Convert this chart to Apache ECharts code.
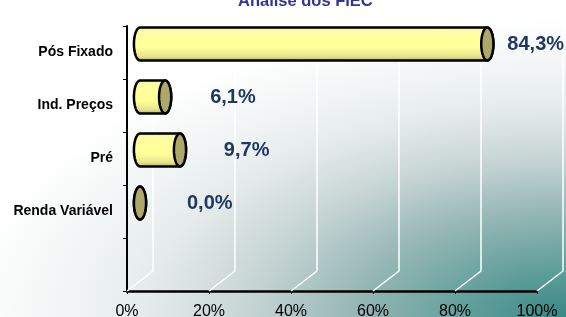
<!DOCTYPE html>
<html>
<head>
<meta charset="utf-8">
<script src="https://cdn.jsdelivr.net/npm/echarts@6/dist/echarts.min.js"></script>
<style>
  html, body { margin: 0; padding: 0; background: #fff; }
  #chart { width: 566px; height: 317px; }
</style>
</head>
<body>
<div id="chart"></div>
<script>
const categories = ['Pós Fixado', 'Ind. Preços', 'Pré', 'Renda Variável', '']
const shares = [84.3, 6.1, 9.7, 0.0]
const shareLabels = ['84,3%', '6,1%', '9,7%', '0,0%']
const xTicks = [0, 20, 40, 60, 80, 100]

// 3D depth of the Excel-style back wall
const DEPTH_X = 26
const DEPTH_Y = -20
const FONT = '"Liberation Sans", Arial, sans-serif'

const chart = echarts.init(document.getElementById('chart'))

const ellipsePts = (cx, cy, rx, ry, a0, a1, n) => {
  const pts = []
  for (let k = 0; k <= n; k++) {
    const t = a0 + (a1 - a0) * k / n
    pts.push([cx + rx * Math.cos(t), cy + ry * Math.sin(t)])
  }
  return pts
}

const renderWall = (params, api) => {
  const cs = params.coordSys
  const x = api.coord([api.value(0), 0])[0]
  const bottom = cs.y + cs.height
  return {
    type: 'polyline',
    shape: { points: [[x + DEPTH_X, cs.y + DEPTH_Y], [x + DEPTH_X, bottom + DEPTH_Y], [x, bottom]] },
    style: { stroke: '#ffffff', lineWidth: 1.5, fill: 'none' }
  }
}

const renderBar = (params, api) => {
  const i = api.value(1)
  const p0 = api.coord([0, i])
  const p1 = api.coord([api.value(0), i])
  const ry = api.size([0, 1])[1] * 0.31
  const rx = ry * 0.37
  const body = [].concat(
    ellipsePts(p1[0], p1[1], rx, ry, -Math.PI / 2, Math.PI / 2, 24),
    ellipsePts(p0[0], p0[1], rx, ry, Math.PI / 2, Math.PI * 1.5, 24)
  )
  const cap = ellipsePts(p1[0], p1[1], rx, ry, 0, Math.PI * 2, 48)
  return {
    type: 'group',
    children: [
      {
        type: 'polygon',
        shape: { points: body },
        style: {
          fill: new echarts.graphic.LinearGradient(0, 0, 0, 1, [
            { offset: 0, color: '#d9d8a8' },
            { offset: 0.1, color: '#fbfba6' },
            { offset: 0.3, color: '#ffff9c' },
            { offset: 0.6, color: '#ffff99' },
            { offset: 0.85, color: '#e8e48c' },
            { offset: 1, color: '#aaa777' }
          ]),
          stroke: '#000000',
          lineWidth: 2.5,
          lineJoin: 'round'
        }
      },
      {
        type: 'polygon',
        shape: { points: cap },
        style: { fill: '#aea86a', stroke: '#000000', lineWidth: 2.5 }
      }
    ]
  }
}

const hiddenValueAxis = (gridIndex) => ({
  type: 'value', gridIndex, min: 0, max: 100, show: false
})
const hiddenCatAxis = (gridIndex) => ({
  type: 'category', gridIndex, inverse: true, data: categories, show: false
})

chart.setOption({
  animation: false,
  title: {
    text: 'Análise dos FIEC',
    left: 233,
    top: -12,
    textStyle: { fontFamily: FONT, fontSize: 16.5, fontWeight: 'bold', color: '#33339a' }
  },
  graphic: [
    {
      type: 'rect',
      silent: true,
      z: -100,
      scaleX: 2,
      shape: { x: 0, y: 0, width: 283, height: 317 },
      style: {
        fill: new echarts.graphic.RadialGradient(283, 317, 300, [
          { offset: 0, color: '#3a8884' },
          { offset: 0.15, color: '#5d9d99' },
          { offset: 0.36, color: '#98b8b6' },
          { offset: 0.53, color: '#c6d5d4' },
          { offset: 0.7, color: '#e5ebeb' },
          { offset: 0.85, color: '#f3f6f6' },
          { offset: 1, color: '#ffffff' }
        ], true)
      }
    }
  ],
  grid: [
    { left: 127, top: 26, width: 410, height: 265, outerBoundsMode: 'none' },
    { left: 140, top: 17.5, width: 412, height: 265, outerBoundsMode: 'none' },
    { left: 187, top: 17.5, width: 380, height: 265, outerBoundsMode: 'none' }
  ],
  xAxis: [
    {
      type: 'value',
      gridIndex: 0,
      min: 0,
      max: 100,
      interval: 20,
      axisLine: { show: true, lineStyle: { color: '#000', width: 2.5 } },
      axisTick: { show: true, length: 3, lineStyle: { color: '#000' } },
      splitLine: { show: false },
      axisLabel: {
        formatter: '{value}%',
        margin: 13,
        fontFamily: FONT,
        fontSize: 16,
        color: '#000'
      }
    },
    hiddenValueAxis(1),
    hiddenValueAxis(2)
  ],
  yAxis: [
    {
      type: 'category',
      gridIndex: 0,
      inverse: true,
      data: categories,
      axisLine: { show: true, lineStyle: { color: '#000', width: 2 } },
      axisTick: { show: true, length: 4, lineStyle: { color: '#000' } },
      axisLabel: {
        margin: 14,
        fontFamily: FONT,
        fontSize: 14,
        fontWeight: 'bold',
        color: '#000'
      }
    },
    hiddenCatAxis(1),
    hiddenCatAxis(2)
  ],
  series: [
    {
      type: 'custom',
      xAxisIndex: 0,
      yAxisIndex: 0,
      clip: false,
      z: 1,
      silent: true,
      renderItem: renderWall,
      data: xTicks.map(v => [v])
    },
    {
      type: 'custom',
      xAxisIndex: 1,
      yAxisIndex: 1,
      clip: false,
      z: 3,
      renderItem: renderBar,
      encode: { x: 0, y: 1 },
      data: shares.map((v, i) => [v, i])
    },
    {
      type: 'scatter',
      xAxisIndex: 2,
      yAxisIndex: 2,
      symbolSize: 0,
      z: 4,
      itemStyle: { opacity: 1 },
      label: {
        show: true,
        position: 'right',
        distance: 0,
        opacity: 1,
        formatter: (p) => shareLabels[p.dataIndex],
        fontFamily: FONT,
        fontSize: 20,
        fontWeight: 'bold',
        color: '#1f3864'
      },
      data: shares.map((v, i) => [v, i])
    }
  ]
})

window.addEventListener('resize', () => chart.resize())
</script>
</body>
</html>
